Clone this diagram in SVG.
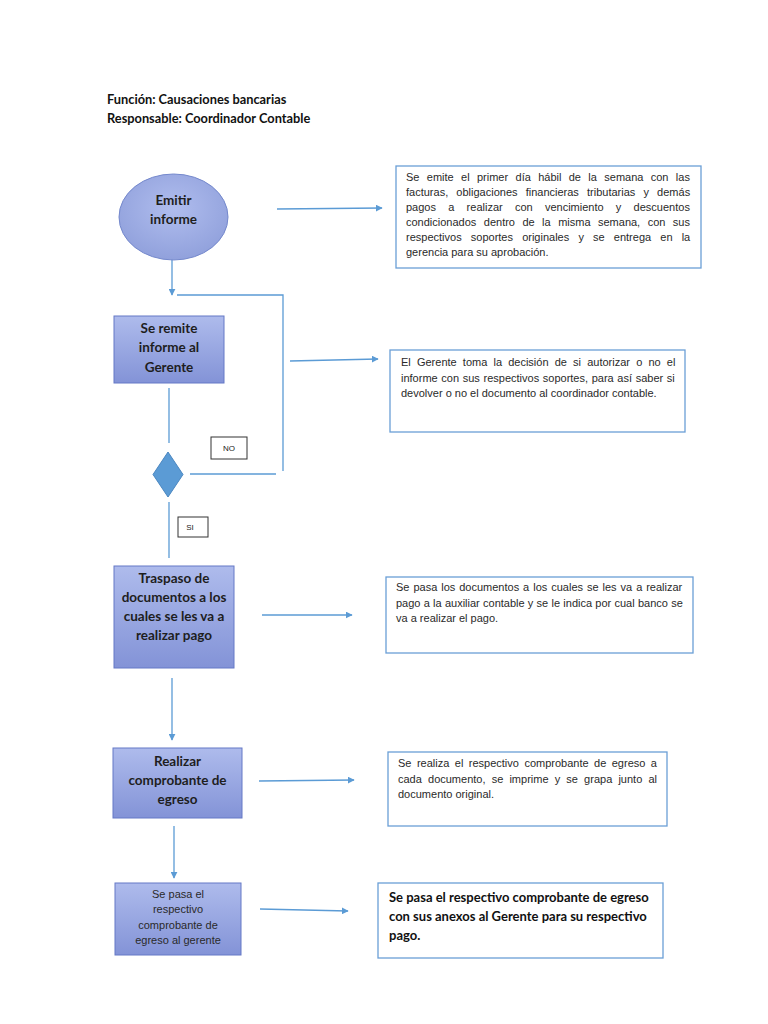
<svg xmlns="http://www.w3.org/2000/svg" width="768" height="1024" viewBox="0 0 768 1024">
<defs>
<linearGradient id="g" x1="0" y1="0" x2="0" y2="1">
<stop offset="0" stop-color="#aebbec"/>
<stop offset="1" stop-color="#8393d7"/>
</linearGradient>
<radialGradient id="ge" cx="0.5" cy="0.4" r="0.6">
<stop offset="0" stop-color="#b0bdee"/>
<stop offset="1" stop-color="#91a1dc"/>
</radialGradient>
<marker id="ar" viewBox="0 0 10 10" refX="9" refY="5" markerWidth="7" markerHeight="7" markerUnits="userSpaceOnUse" orient="auto">
<path d="M0,0 L10,5 L0,10 z" fill="#5b9bd5"/>
</marker>
</defs>
<style>
.proc{fill:url(#g);stroke:#6579c6;stroke-width:1}
.note{fill:#fff;stroke:#6a9fd6;stroke-width:1.3}
.lbl{fill:#fff;stroke:#333;stroke-width:1}
.c{fill:none;stroke:#5b9bd5;stroke-width:1.3}
.b{font-family:Lato,"Liberation Sans",sans-serif;font-weight:700;font-size:13.5px;fill:#1e1e1e}
.t{font-family:"Liberation Sans",Arial,sans-serif;font-size:11px;fill:#2a2a2a}
.s{font-family:"Liberation Sans",Arial,sans-serif;font-size:8px;fill:#222}
.h{font-family:Lato,"Liberation Sans",sans-serif;font-weight:700;font-size:12.8px;fill:#111}
.h2{font-family:Lato,"Liberation Sans",sans-serif;font-weight:700;font-size:13px;fill:#111}
</style>
<rect width="768" height="1024" fill="#fff"/>
<g id="title">
<text class="h" x="107" y="104">Función: Causaciones bancarias</text>
<text class="h" x="107" y="123">Responsable: Coordinador Contable</text>
</g>
<g id="connectors">
<line class="c" x1="277" y1="209" x2="382" y2="208" marker-end="url(#ar)"/>
<line class="c" x1="172" y1="259" x2="172" y2="295" marker-end="url(#ar)"/>
<polyline class="c" points="177,295 283,295 283,471"/>
<line class="c" x1="190" y1="474" x2="276" y2="474"/>
<line class="c" x1="290" y1="361" x2="378" y2="359" marker-end="url(#ar)"/>
<line class="c" x1="169" y1="388" x2="169" y2="443"/>
<line class="c" x1="169" y1="502" x2="169" y2="558"/>
<line class="c" x1="262" y1="615" x2="352" y2="615" marker-end="url(#ar)"/>
<line class="c" x1="172" y1="678" x2="172" y2="740" marker-end="url(#ar)"/>
<line class="c" x1="259" y1="781" x2="354" y2="780" marker-end="url(#ar)"/>
<line class="c" x1="174" y1="826" x2="174" y2="878" marker-end="url(#ar)"/>
<line class="c" x1="260" y1="909" x2="348" y2="911" marker-end="url(#ar)"/>
</g>
<g id="emitir">
<ellipse cx="173.5" cy="217" rx="54.5" ry="43" fill="url(#ge)" stroke="#7488cc" stroke-width="1"/>
<text class="b" x="173.5" y="205" text-anchor="middle">Emitir</text>
<text class="b" x="173.5" y="224" text-anchor="middle">informe</text>
</g>
<g id="nota1">
<rect class="note" x="396" y="166" width="305" height="102"/>
<text class="t" x="406" y="181" style="word-spacing:4.3px">Se emite el primer día hábil de la semana con las</text>
<text class="t" x="406" y="196" style="word-spacing:5.1px">facturas, obligaciones financieras tributarias y demás</text>
<text class="t" x="406" y="211" style="word-spacing:9.2px">pagos a realizar con vencimiento y descuentos</text>
<text class="t" x="406" y="226" style="word-spacing:4.4px">condicionados dentro de la misma semana, con sus</text>
<text class="t" x="406" y="241" style="word-spacing:6.1px">respectivos soportes originales y se entrega en la</text>
<text class="t" x="406" y="256">gerencia para su aprobación.</text>
</g>
<g id="remite">
<rect class="proc" x="114" y="316" width="110" height="67"/>
<text class="b" x="169" y="333" text-anchor="middle">Se remite</text>
<text class="b" x="169" y="352" text-anchor="middle">informe al</text>
<text class="b" x="169" y="372" text-anchor="middle">Gerente</text>
</g>
<g id="nota2">
<rect class="note" x="390" y="350" width="295" height="82"/>
<text class="t" x="401" y="366" style="word-spacing:3.1px">El Gerente toma la decisión de si autorizar o no el</text>
<text class="t" x="401" y="382" style="word-spacing:0.6px">informe con sus respectivos soportes, para así saber si</text>
<text class="t" x="401" y="397">devolver o no el documento al coordinador contable.</text>
</g>
<g id="decision">
<polygon points="168,452 183,474.5 168,497 153,474.5" fill="#5b9bd5" stroke="#4a86c0" stroke-width="1"/>
</g>
<g id="no">
<rect class="lbl" x="211" y="437" width="36" height="22"/>
<text class="s" x="229" y="451" text-anchor="middle">NO</text>
</g>
<g id="si">
<rect class="lbl" x="178" y="517" width="30" height="20"/>
<text class="s" x="190" y="530" text-anchor="middle">SI</text>
</g>
<g id="traspaso">
<rect class="proc" x="114" y="566" width="120" height="102"/>
<text class="b" x="174" y="583" text-anchor="middle">Traspaso de</text>
<text class="b" x="174" y="602" text-anchor="middle">documentos a los</text>
<text class="b" x="174" y="621" text-anchor="middle">cuales se les va a</text>
<text class="b" x="174" y="640" text-anchor="middle">realizar pago</text>
</g>
<g id="nota3">
<rect class="note" x="386" y="577" width="307" height="76"/>
<text class="t" x="396" y="591" style="word-spacing:0.9px">Se pasa los documentos a los cuales se les va a realizar</text>
<text class="t" x="396" y="607" style="word-spacing:0.2px">pago a la auxiliar contable y se le indica por cual banco se</text>
<text class="t" x="396" y="622">va a realizar el pago.</text>
</g>
<g id="realizar">
<rect class="proc" x="113" y="748" width="129" height="70"/>
<text class="b" x="177.5" y="766" text-anchor="middle">Realizar</text>
<text class="b" x="177.5" y="785" text-anchor="middle">comprobante de</text>
<text class="b" x="177.5" y="804" text-anchor="middle">egreso</text>
</g>
<g id="nota4">
<rect class="note" x="388" y="752" width="279" height="74"/>
<text class="t" x="398" y="767" style="word-spacing:2.4px">Se realiza el respectivo comprobante de egreso a</text>
<text class="t" x="398" y="783" style="word-spacing:3.1px">cada documento, se imprime y se grapa junto al</text>
<text class="t" x="398" y="798">documento original.</text>
</g>
<g id="pasa">
<rect class="proc" x="115" y="883" width="126" height="72"/>
<text class="t" x="178" y="898" text-anchor="middle">Se pasa el</text>
<text class="t" x="178" y="913" text-anchor="middle">respectivo</text>
<text class="t" x="178" y="929" text-anchor="middle">comprobante de</text>
<text class="t" x="178" y="944" text-anchor="middle">egreso al gerente</text>
</g>
<g id="nota5">
<rect class="note" x="378" y="883" width="285" height="75"/>
<text class="h2" x="389" y="902">Se pasa el respectivo comprobante de egreso</text>
<text class="h2" x="389" y="921">con sus anexos al Gerente para su respectivo</text>
<text class="h2" x="389" y="940">pago.</text>
</g>
</svg>
